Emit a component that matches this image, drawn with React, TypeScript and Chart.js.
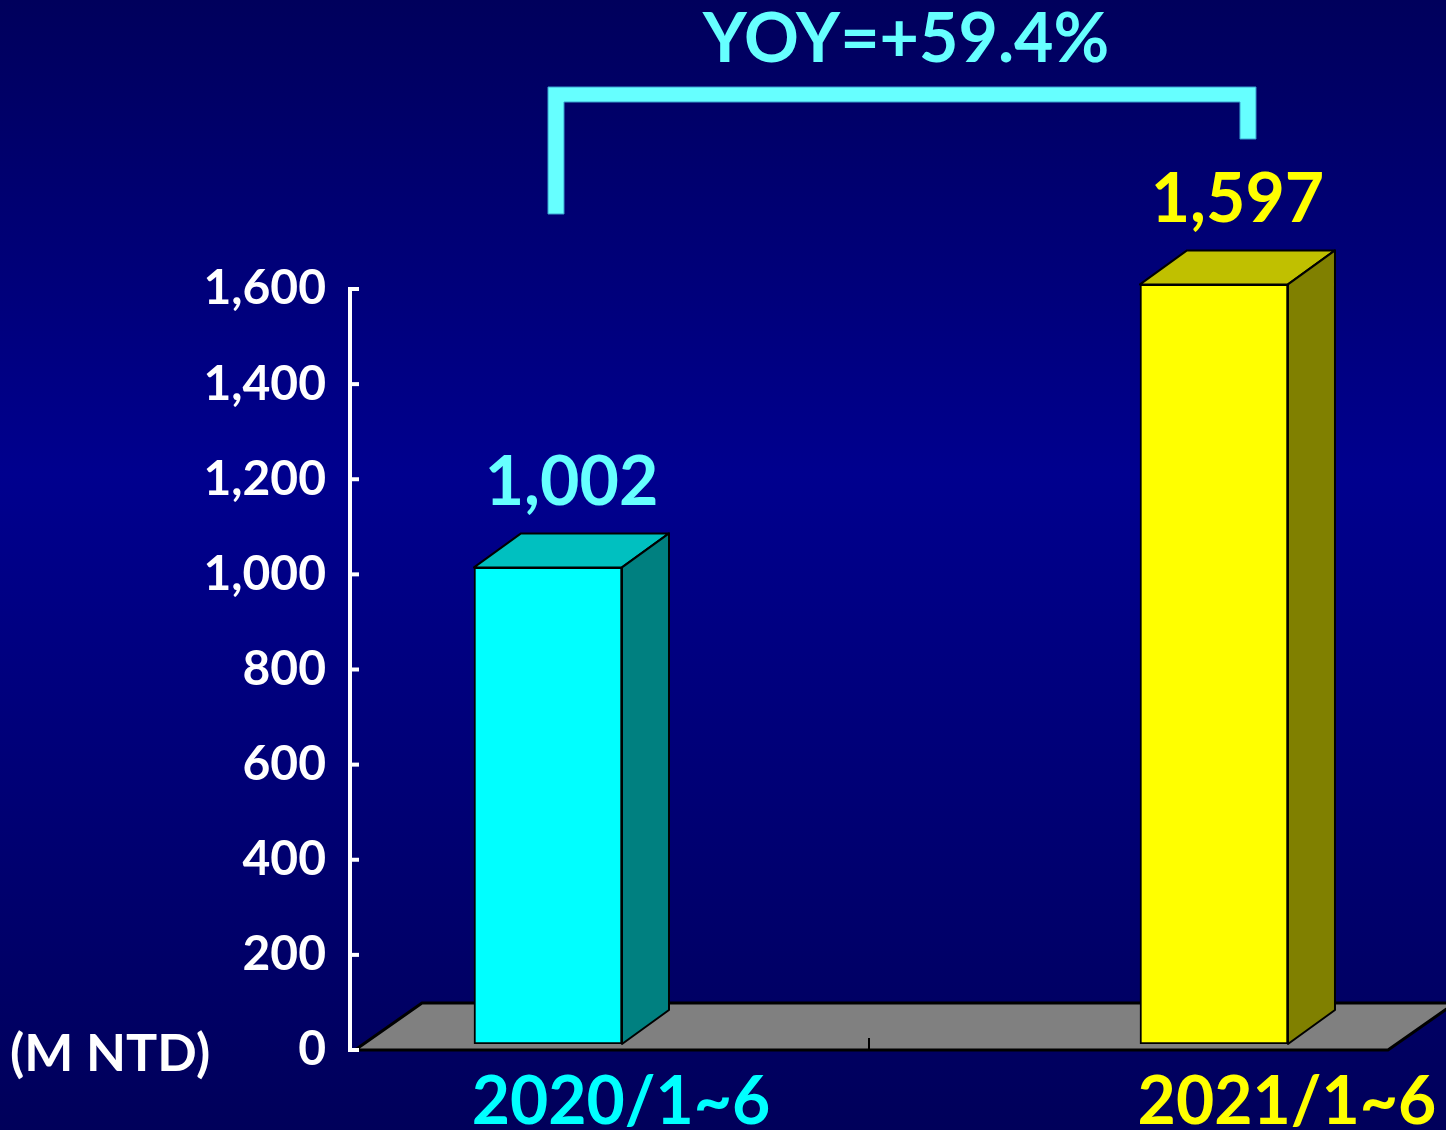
import React, { useEffect, useRef } from "react";
import { Chart, registerables } from "chart.js";

Chart.register(...registerables);

// ---- data ----
const categories = ["2020/1~6", "2021/1~6"];
const values = [1002, 1597];
const yTicks = [0, 200, 400, 600, 800, 1000, 1200, 1400, 1600];
const unitLabel = "(M NTD)";

// ---- styles ----
const frontColors = ["#00ffff", "#ffff00"];
const topColors = ["#00c0c0", "#c0c000"];
const sideColors = ["#008080", "#808000"];
const valueLabelColors = ["#66ffff", "#ffff00"];
const categoryLabelColors = ["#00ffff", "#ffff00"];
const BRACKET_COLOR = "#66ffff";
const FONT = 'Lato, "DejaVu Sans", sans-serif';
const DX = 47;
const DY = -34;
const FLOOR_DX = 67;
const FLOOR_DY = -47;
const BAR_LIFT = 6;

const yoy = (((values[1] - values[0]) / values[0]) * 100).toFixed(1);
const yoyText = `YOY=+${yoy}%`;

const fmt = (v: number) => v.toLocaleString("en-US");

const decoPlugin = {
  id: "deco",
  beforeDraw(chart: any) {
    const { ctx, width, height } = chart;
    const g = ctx.createLinearGradient(0, 0, 0, height);
    g.addColorStop(0, "#00005c");
    g.addColorStop(0.42, "#00008e");
    g.addColorStop(1, "#00005a");
    ctx.save();
    ctx.fillStyle = g;
    ctx.fillRect(0, 0, width, height);
    ctx.restore();
  },
  beforeDatasetsDraw(chart: any) {
    const { ctx, chartArea } = chart;
    const { left, right, bottom } = chartArea;
    ctx.save();
    ctx.beginPath();
    ctx.moveTo(left + 5, bottom);
    ctx.lineTo(left + 5 + FLOOR_DX, bottom + FLOOR_DY);
    ctx.lineTo(right + FLOOR_DX, bottom + FLOOR_DY);
    ctx.lineTo(right, bottom);
    ctx.closePath();
    ctx.fillStyle = "#808080";
    ctx.fill();
    ctx.lineWidth = 3;
    ctx.strokeStyle = "#000000";
    ctx.lineJoin = "miter";
    ctx.stroke();
    // divider tick between categories
    const xs = chart.scales.x;
    const mid = xs.getPixelForValue(0.482);
    ctx.beginPath();
    ctx.moveTo(mid, bottom - 12);
    ctx.lineTo(mid, bottom);
    ctx.lineWidth = 2;
    ctx.stroke();
    ctx.restore();
    // lift bars slightly so they sit on the floor plane
    ctx.save();
    ctx.translate(0, -BAR_LIFT);
  },
  afterDatasetsDraw(chart: any) {
    const { ctx } = chart;
    const meta = chart.getDatasetMeta(0);
    ctx.save();
    meta.data.forEach((bar: any, i: number) => {
      const { x, y, base, width } = bar.getProps(["x", "y", "base", "width"], true);
      const l = x - width / 2;
      const r = x + width / 2;
      ctx.lineWidth = 2;
      ctx.strokeStyle = "#000000";
      ctx.lineJoin = "round";
      // top face
      ctx.beginPath();
      ctx.moveTo(l, y);
      ctx.lineTo(l + DX, y + DY);
      ctx.lineTo(r + DX, y + DY);
      ctx.lineTo(r, y);
      ctx.closePath();
      ctx.fillStyle = topColors[i];
      ctx.fill();
      ctx.stroke();
      // side face
      ctx.beginPath();
      ctx.moveTo(r, y);
      ctx.lineTo(r + DX, y + DY);
      ctx.lineTo(r + DX, base + DY);
      ctx.lineTo(r, base);
      ctx.closePath();
      ctx.fillStyle = sideColors[i];
      ctx.fill();
      ctx.stroke();
      // value label
      ctx.fillStyle = valueLabelColors[i];
      ctx.font = `bold 68px ${FONT}`;
      ctx.textAlign = "center";
      ctx.textBaseline = "alphabetic";
      ctx.fillText(fmt(values[i]), x + DX / 2, y - 62);
    });
    ctx.restore();
    ctx.restore(); // undo lift
  },
  afterDraw(chart: any) {
    const { ctx, chartArea } = chart;
    const ys = chart.scales.y;
    ctx.save();
    // inward y ticks
    ctx.fillStyle = "#ffffff";
    yTicks.forEach((v) => {
      const py = ys.getPixelForValue(v);
      ctx.fillRect(chartArea.left - 2, py - 2, 11, 4);
    });
    // bracket
    const meta = chart.getDatasetMeta(0);
    const b0 = meta.data[0];
    const b1 = meta.data[1];
    const t = 16;
    const L = b0.x;
    const R = b1.x + 42;
    const top = 87;
    const botL = 214;
    const botR = 139;
    ctx.beginPath();
    ctx.moveTo(L, botL);
    ctx.lineTo(L, top);
    ctx.lineTo(R, top);
    ctx.lineTo(R, botR);
    ctx.lineTo(R - t, botR);
    ctx.lineTo(R - t, top + t - 1);
    ctx.lineTo(L + t, top + t - 1);
    ctx.lineTo(L + t, botL);
    ctx.closePath();
    ctx.fillStyle = BRACKET_COLOR;
    ctx.fill();
    ctx.lineWidth = 1;
    ctx.strokeStyle = "#3a9fd0";
    ctx.stroke();
    // YOY text
    ctx.fillStyle = BRACKET_COLOR;
    ctx.font = `bold 68px ${FONT}`;
    ctx.textAlign = "center";
    ctx.textBaseline = "alphabetic";
    ctx.fillText(yoyText, (L + R) / 2 + 4, 62);
    // unit label
    ctx.fillStyle = "#ffffff";
    ctx.font = `bold 52px ${FONT}`;
    ctx.textAlign = "left";
    ctx.fillText(unitLabel, 10, 1071);
    ctx.restore();
  },
};

export default function App() {
  const canvasRef = useRef<HTMLCanvasElement | null>(null);

  useEffect(() => {
    document.body.style.margin = "0";
    const canvas = canvasRef.current;
    if (!canvas) return;
    const chart = new Chart(canvas, {
      type: "bar",
      data: {
        datasets: [
          {
            data: values.map((v, i) => ({ x: i, y: v })),
            backgroundColor: frontColors,
            borderColor: "#000000",
            borderWidth: 2,
            borderSkipped: false,
            barThickness: 148,
          },
        ],
      },
      options: {
        animation: false,
        responsive: true,
        maintainAspectRatio: false,
        layout: { padding: { top: 289, right: 58, left: 0, bottom: 0 } },
        plugins: {
          legend: { display: false },
          tooltip: { enabled: false },
        },
        scales: {
          x: {
            type: "linear",
            offset: false,
            min: -0.2973,
            max: 1.2613,
            grid: { display: false },
            border: { display: false },
            afterBuildTicks: (scale: any) => {
              scale.ticks = categories.map((_, i) => ({ value: i }));
            },
            afterFit: (scale: any) => {
              scale.height = 80;
            },
            ticks: {
              autoSkip: false,
              maxRotation: 0,
              minRotation: 0,
              labelOffset: 73,
              padding: 5,
              color: (c: any) => categoryLabelColors[c.index] ?? "#ffffff",
              font: { family: FONT, weight: "bold", size: 66 },
              callback: (v: any) => categories[Number(v)] ?? "",
            },
          },
          y: {
            type: "linear",
            min: yTicks[0],
            max: yTicks[yTicks.length - 1],
            grid: { display: false },
            border: { display: true, color: "#ffffff", width: 4 },
            afterBuildTicks: (scale: any) => {
              scale.ticks = yTicks.map((v) => ({ value: v }));
            },
            afterFit: (scale: any) => {
              scale.width = 350;
            },
            ticks: {
              padding: 16,
              color: "#ffffff",
              font: { family: FONT, weight: "bold", size: 48 },
              callback: (v: any) => fmt(Number(v)),
            },
          },
        },
      },
      plugins: [decoPlugin],
    });
    return () => chart.destroy();
  }, []);

  return (
    <div style={{ width: 1446, height: 1130, position: "relative" }}>
      <canvas ref={canvasRef} />
    </div>
  );
}
